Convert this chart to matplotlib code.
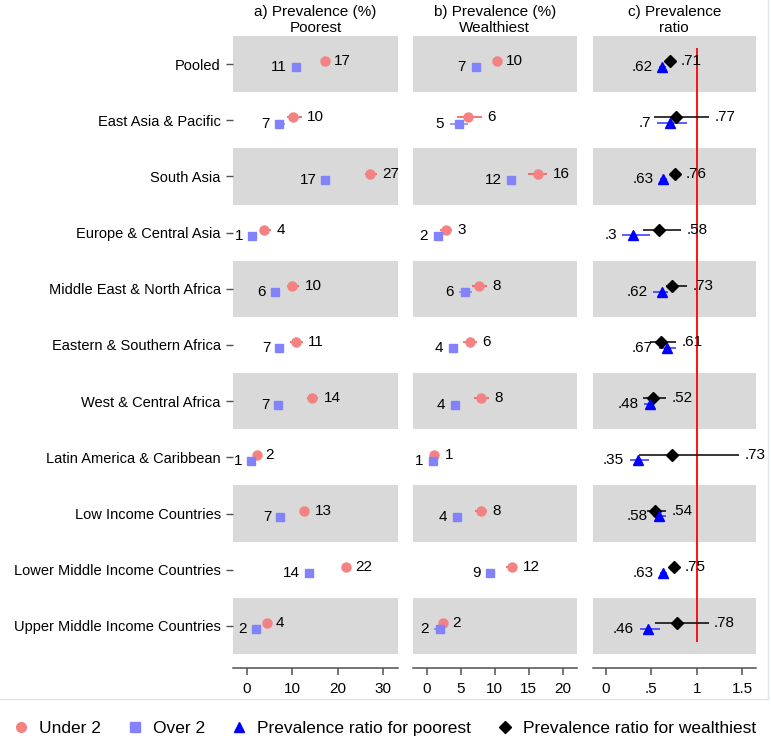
import numpy as np
import matplotlib.pyplot as plt
from matplotlib.lines import Line2D

plt.rcParams['font.family'] = ['Liberation Sans', 'DejaVu Sans']

regions = ['Pooled', 'East Asia & Pacific', 'South Asia', 'Europe & Central Asia',
           'Middle East & North Africa', 'Eastern & Southern Africa', 'West & Central Africa',
           'Latin America & Caribbean', 'Low Income Countries', 'Lower Middle Income Countries',
           'Upper Middle Income Countries']

# a) prevalence (%) among poorest
a_under = [17.3, 10.2, 27.1, 3.9, 9.9, 10.8, 14.4, 2.2, 12.6, 21.9, 4.4]
a_under_lo = [16.6, 8.8, 26.0, 3.1, 8.8, 9.5, 13.3, 1.6, 11.7, 21.2, 3.7]
a_under_hi = [18.0, 12.1, 28.6, 5.3, 11.5, 12.3, 15.7, 2.8, 13.7, 22.6, 5.1]
a_over = [10.8, 7.2, 17.2, 1.2, 6.2, 7.2, 6.9, 0.9, 7.4, 13.7, 2.0]
a_over_lo = [10.1, 6.2, 16.5, 0.6, 5.5, 6.5, 6.2, 0.3, 6.7, 13.0, 1.3]
a_over_hi = [11.5, 8.4, 17.9, 1.8, 6.9, 7.9, 7.6, 1.5, 8.1, 14.4, 2.7]

# b) prevalence (%) among wealthiest
b_under = [10.3, 6.0, 16.3, 2.8, 7.7, 6.3, 8.0, 1.1, 8.0, 12.5, 2.4]
b_under_lo = [9.7, 4.5, 14.9, 2.0, 6.6, 5.4, 7.0, 0.6, 7.1, 11.6, 1.8]
b_under_hi = [10.9, 8.1, 17.7, 3.7, 8.9, 7.4, 9.2, 1.8, 8.9, 13.3, 3.0]
b_over = [7.2, 4.8, 12.4, 1.6, 5.6, 3.8, 4.2, 0.9, 4.4, 9.3, 1.9]
b_over_lo = [6.6, 3.4, 11.8, 1.0, 4.8, 3.3, 3.5, 0.4, 3.8, 8.7, 1.1]
b_over_hi = [7.8, 6.1, 13.1, 2.2, 6.6, 4.5, 4.8, 1.4, 5.0, 9.9, 2.5]

# c) prevalence ratio
c_poor = [0.62, 0.70, 0.63, 0.30, 0.62, 0.67, 0.48, 0.35, 0.58, 0.63, 0.46]
c_poor_lo = [0.58, 0.56, 0.59, 0.18, 0.52, 0.58, 0.42, 0.26, 0.52, 0.59, 0.37]
c_poor_hi = [0.66, 0.89, 0.67, 0.49, 0.68, 0.77, 0.52, 0.47, 0.66, 0.67, 0.59]
c_wealth = [0.71, 0.77, 0.76, 0.58, 0.73, 0.61, 0.52, 0.73, 0.54, 0.75, 0.78]
c_wealth_lo = [0.67, 0.53, 0.72, 0.41, 0.66, 0.48, 0.41, 0.36, 0.45, 0.71, 0.54]
c_wealth_hi = [0.76, 1.14, 0.82, 0.83, 0.89, 0.77, 0.66, 1.47, 0.66, 0.80, 1.13]

c_under = '#f48282'
c_over = '#8282fa'
c_tri = '#0000ff'
c_dia = 'black'
fs = 10.5

def fmt_pct(v):
    return '%.0f' % v

def fmt_ratio(v):
    return ('%.2f' % v).rstrip('0').lstrip('0')

def draw_series(ax, vals, lo, hi, dy, marker, ms, color, lcolor, side, fmt):
    y = np.arange(len(vals)) + dy
    ax.hlines(y, lo, hi, color=lcolor, lw=1.1, zorder=3)
    ax.plot(vals, y, marker=marker, ms=ms, color=color, linestyle='none', zorder=4)
    for i in range(len(vals)):
        if side == 'right':
            ax.annotate(fmt(vals[i]), (hi[i], y[i]), xytext=(4, 0), textcoords='offset points',
                        ha='left', va='center', fontsize=11)
        else:
            ax.annotate(fmt(vals[i]), (lo[i], y[i]), xytext=(-4, 0), textcoords='offset points',
                        ha='right', va='center', fontsize=11)

fig = plt.figure(figsize=(7.71, 7.44), dpi=100)
bottom = 1 - 654 / 744
height = (654 - 36) / 744
ax_a = fig.add_axes([233.3 / 771, bottom, 164.4 / 771, height])
ax_b = fig.add_axes([412.7 / 771, bottom, 164 / 771, height])
ax_c = fig.add_axes([592.7 / 771, bottom, 163 / 771, height])

n = len(regions)
for ax in [ax_a, ax_b, ax_c]:
    for i in range(0, n, 2):
        ax.axhspan(i - 0.5, i + 0.5, color='#d9d9d9', lw=0, zorder=0)
    ax.set_ylim(n - 0.5, -0.5)
    for s in ['top', 'right', 'left']:
        ax.spines[s].set_visible(False)
    ax.spines['bottom'].set_position(('outward', 10))
    ax.spines['bottom'].set_color('#505050')
    ax.spines['bottom'].set_linewidth(1.1)
    ax.tick_params(axis='x', length=5, width=1.1, color='#505050', labelsize=11, pad=5)
    ax.set_facecolor('none')

ax_a.set_yticks(range(n))
ax_a.set_yticklabels(regions, fontsize=fs)
ax_a.tick_params(axis='y', length=5, width=1, color='#505050', pad=4)
ax_b.set_yticks([])
ax_c.set_yticks([])

draw_series(ax_a, a_under, a_under_lo, a_under_hi, -0.05, 'o', 6.5, c_under, '#f05050', 'right', fmt_pct)
draw_series(ax_a, a_over, a_over_lo, a_over_hi, 0.06, 's', 6, c_over, c_over, 'left', fmt_pct)
ax_a.set_xlim(-2.94, 33.15)
ax_a.set_xticks([0, 10, 20, 30])
ax_a.set_title('a) Prevalence (%)\nPoorest', fontsize=11, pad=3, linespacing=1.15)

draw_series(ax_b, b_under, b_under_lo, b_under_hi, -0.05, 'o', 6.5, c_under, '#f05050', 'right', fmt_pct)
draw_series(ax_b, b_over, b_over_lo, b_over_hi, 0.06, 's', 6, c_over, c_over, 'left', fmt_pct)
ax_b.set_xlim(-2.06, 22.06)
ax_b.set_xticks([0, 5, 10, 15, 20])
ax_b.set_title('b) Prevalence (%)\nWealthiest', fontsize=11, pad=3, linespacing=1.15)

ax_c.vlines(1, -0.29, 10.28, color='red', lw=1.3, zorder=2)
draw_series(ax_c, c_wealth, c_wealth_lo, c_wealth_hi, -0.05, 'D', 6.5, c_dia, c_dia, 'right', fmt_ratio)
draw_series(ax_c, c_poor, c_poor_lo, c_poor_hi, 0.05, '^', 7.5, c_tri, '#3030ff', 'left', fmt_ratio)
ax_c.set_xlim(-0.147, 1.65)
ax_c.set_xticks([0, 0.5, 1, 1.5])
ax_c.set_xticklabels(['0', '.5', '1', '1.5'])
ax_c.set_title('c) Prevalence\nratio', fontsize=11, pad=3, linespacing=1.15)

# faint outer border of the plot region
fig.add_artist(Line2D([0, 768 / 771], [1 - 699 / 744] * 2, color='#dde7e9', lw=1))
fig.add_artist(Line2D([768 / 771] * 2, [1 - 699 / 744, 1], color='#dde7e9', lw=1))

handles = [
    Line2D([], [], marker='o', color=c_under, linestyle='none', ms=7),
    Line2D([], [], marker='s', color=c_over, linestyle='none', ms=6.5),
    Line2D([], [], marker='^', color=c_tri, linestyle='none', ms=7.5),
    Line2D([], [], marker='D', color=c_dia, linestyle='none', ms=6.5),
]
labels = ['Under 2', 'Over 2', 'Prevalence ratio for poorest', 'Prevalence ratio for wealthiest']
fig.legend(handles, labels, ncol=4, loc='center', bbox_to_anchor=(0.498, 0.021), frameon=False,
           fontsize=12.5, handlelength=1, handletextpad=0.55, columnspacing=1.45)

fig.savefig('out.png', dpi=100)
plt.close()
